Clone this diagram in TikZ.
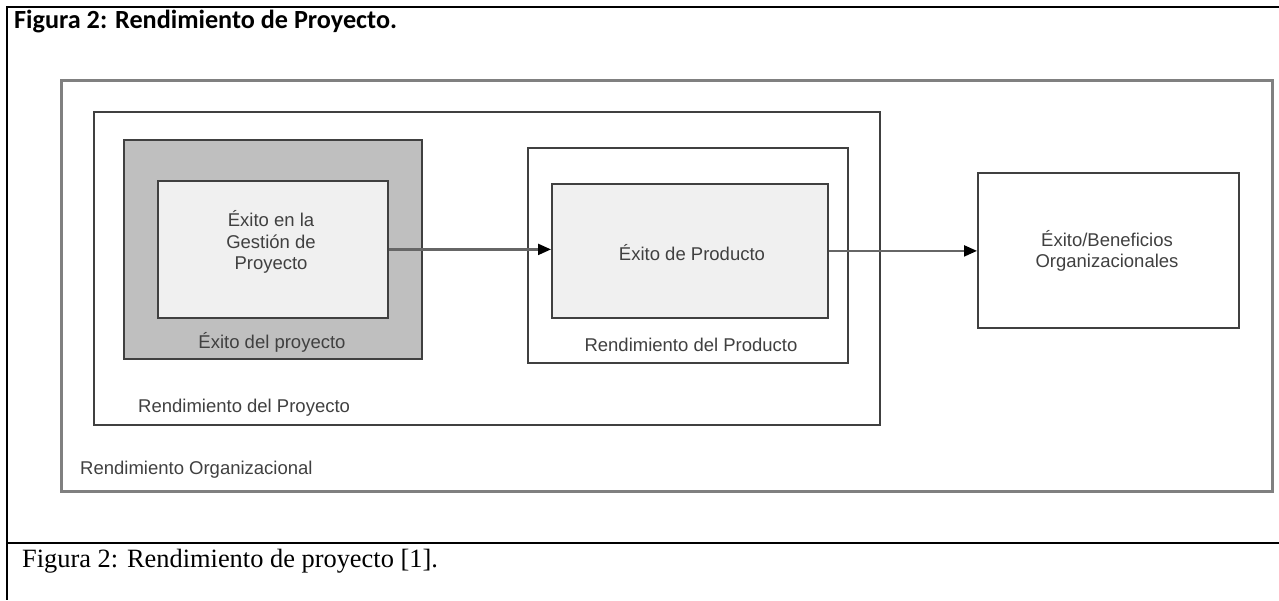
\documentclass[tikz,border=0pt]{standalone}
\usepackage{fontspec}
\setmainfont{Liberation Serif}
\newfontfamily\diafont{Liberation Sans}
\newfontfamily\titlefont{Carlito}
\usetikzlibrary{arrows.meta}

\begin{document}
\begin{tikzpicture}[x=1pt, y=-1pt,
  frame/.style={draw=black, line width=2.8pt},
  orgbox/.style={draw=black!50, line width=2.6pt, inner sep=0pt, anchor=north west},
  box/.style={draw=black!75, line width=1.8pt, inner sep=0pt, anchor=north west},
  lbl/.style={font=\diafont\fontsize{18.5}{21.5}\selectfont, text=black!75, align=center, inner sep=0pt},
  flow/.style={draw=black!60, line width=2.2pt, -{Triangle[length=13pt,width=11pt,color=black]}}
]
\useasboundingbox (0,0) rectangle (1279,600);

% table frame around the figure
\coordinate (tl) at (7,7);
\coordinate (tr) at (1279,7);
\coordinate (bl) at (7,600);
\coordinate (sl) at (7,543);
\coordinate (sr) at (1279,543);
\draw[frame] (tr) -- (tl) -- (bl);
\draw[frame] (sl) -- (sr);

\node[font=\titlefont\bfseries\fontsize{26.2}{30}\selectfont, anchor=base west, inner sep=0pt]
  (title) at (14,28) {Figura 2: Rendimiento de Proyecto.};

% nested performance boxes
\node[orgbox, minimum width=1211pt, minimum height=411pt] (org) at (60,79) {};
\node[box, minimum width=786pt, minimum height=313pt] (proj) at (93,111) {};
\node[box, fill=black!25, minimum width=298pt, minimum height=219pt] (psucc) at (123,139) {};
\node[box, fill=black!6, minimum width=230pt, minimum height=137pt] (mgmt) at (157,180) {};
\node[box, minimum width=320pt, minimum height=215pt] (prodperf) at (527,147) {};
\node[box, fill=black!6, minimum width=276pt, minimum height=134pt] (prod) at (551,183) {};
\node[box, minimum width=261pt, minimum height=155pt] (benef) at (977,172) {};

% labels
\node[lbl] (tmgmt) at (271,242) {Éxito en la\\Gestión de\\Proyecto};
\node[lbl] (tpsucc) at (272,342) {Éxito del proyecto};
\node[lbl, anchor=west] (tproj) at (138,408) {Rendimiento del Proyecto};
\node[lbl] (tprod) at (692,253) {Éxito de Producto};
\node[lbl] (tprodperf) at (691,345) {Rendimiento del Producto};
\node[lbl] (tbenef) at (1107,251) {Éxito/Beneficios\\Organizacionales};
\node[lbl, anchor=west] (torg) at (80,470) {Rendimiento Organizacional};

% flow between the levels
\draw[flow] (mgmt.east) -- (mgmt.east -| prod.west);
\draw[flow] (prod.east) -- (prod.east -| benef.west);

\node[font=\fontsize{26.4}{30}\selectfont, anchor=base west, inner sep=0pt]
  (caption) at (22,567) {Figura 2: Rendimiento de proyecto [1].};
\end{tikzpicture}
\end{document}
